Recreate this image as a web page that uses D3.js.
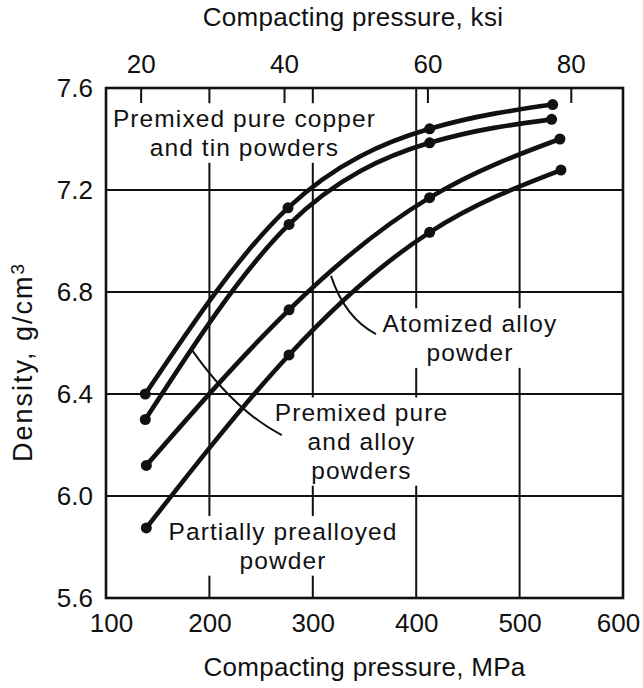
<!DOCTYPE html>
<html><head><meta charset="utf-8">
<script src="https://cdn.jsdelivr.net/npm/d3@7"></script>
<style>
html,body{margin:0;padding:0;background:#fff;}
svg{display:block;}
text{font-family:"Liberation Sans",Arial,Helvetica,sans-serif;fill:#111;}
</style></head><body>
<svg id="chart" width="643" height="688"></svg>
<script>
// ---- data ----
const mpaTicks = [100, 200, 300, 400, 500, 600];
const ksiTicks = [20, 40, 60, 80];
const densityTicks = [5.6, 6.0, 6.4, 6.8, 7.2, 7.6];

const seriesNames = [
  "Premixed pure copper and tin powders",
  "Premixed pure and alloy powders",
  "Atomized alloy powder",
  "Partially prealloyed powder"
];
const copperTinP = [138, 276, 413, 532];
const copperTinD = [6.40, 7.13, 7.44, 7.535];
const pureAlloyP = [138, 277, 413, 531];
const pureAlloyD = [6.30, 7.065, 7.385, 7.477];
const atomizedP  = [139, 277, 413, 539];
const atomizedD  = [6.12, 6.73, 7.17, 7.40];
const partialP   = [139, 277, 413, 540];
const partialD   = [5.875, 6.553, 7.034, 7.278];

const xTitle = "Compacting pressure, MPa";
const topTitle = "Compacting pressure, ksi";
const yTitle = "Density, g/cm";

// ---- layout ----
const svg = d3.select("#chart");
const plot = {left: 106, right: 623, top: 88, bottom: 598};
const FS = 26;

const x = d3.scaleLinear().domain([100, 600]).range([plot.left, plot.right]);
const y = d3.scaleLinear().domain([5.6, 7.6]).range([plot.bottom, plot.top]);
// ksi axis as drawn on the original figure
const ksi = d3.scaleLinear().domain([20, 80]).range([x(133.5), x(549.5)]);

const series = [
  {p: copperTinP, d: copperTinD},
  {p: pureAlloyP, d: pureAlloyD},
  {p: atomizedP, d: atomizedD},
  {p: partialP, d: partialD}
].map((s, i) => ({name: seriesNames[i], pts: s.p.map((p, j) => [p, s.d[j]])}));

// ---- gridlines ----
const grid = svg.append("g").attr("stroke", "#111").attr("stroke-width", 2);
grid.selectAll("line.v").data(mpaTicks.slice(1, -1)).join("line")
  .attr("x1", d => x(d)).attr("x2", d => x(d))
  .attr("y1", y(7.6)).attr("y2", y(5.6));
grid.selectAll("line.h").data(densityTicks.slice(1, -1)).join("line")
  .attr("y1", d => y(d)).attr("y2", d => y(d))
  .attr("x1", x(100)).attr("x2", x(600));

// ---- annotations (text blocks with white backing) ----
const annotations = [
  {lines: ["Premixed pure copper", "and tin powders"], at: [233.9, 7.443]},
  {lines: ["Atomized alloy", "powder"], at: [452, 6.639],
   leader: [[317.6, 6.863], [331.1, 6.698], [361.1, 6.635]]},
  {lines: ["Premixed pure", "and alloy", "powders"], at: [347.1, 6.286],
   leader: [[183, 6.573], [225.2, 6.331], [270, 6.239]]},
  {lines: ["Partially prealloyed", "powder"], at: [271.2, 5.824]}
];
const LFS = 24.5;     // annotation font size
const LH = 28.6;      // annotation line height
const bgLayer = svg.append("g");
const frameLayer = svg.append("g");
const curveLayer = svg.append("g");
const textLayer = svg.append("g");

annotations.forEach(a => {
  let box = null;
  const y0 = y(a.at[1]) - 0.8 * (a.lines.length - 1);
  a.lines.forEach((ln, i) => {
    const t = textLayer.append("text")
      .attr("text-anchor", "middle")
      .attr("x", x(a.at[0])).attr("y", y0 + i * LH)
      .style("font-size", LFS + "px")
      .style("letter-spacing", "1.1px")
      .text(ln);
    const bb = t.node().getBBox();
    if (!box) box = {x0: bb.x, y0: bb.y, x1: bb.x + bb.width, y1: bb.y + bb.height};
    else {
      box.x0 = Math.min(box.x0, bb.x); box.y0 = Math.min(box.y0, bb.y);
      box.x1 = Math.max(box.x1, bb.x + bb.width); box.y1 = Math.max(box.y1, bb.y + bb.height);
    }
  });
  bgLayer.append("rect")
    .attr("x", box.x0 - 6).attr("y", box.y0 - 2)
    .attr("width", box.x1 - box.x0 + 12).attr("height", box.y1 - box.y0 + 4)
    .attr("fill", "#fff");
  if (a.leader) {
    const [p0, c, p1] = a.leader;
    const path = d3.path();
    path.moveTo(x(p0[0]), y(p0[1]));
    path.quadraticCurveTo(x(c[0]), y(c[1]), x(p1[0]), y(p1[1]));
    curveLayer.append("path").attr("d", path.toString())
      .attr("fill", "none").attr("stroke", "#111").attr("stroke-width", 2);
  }
});

// ---- frame ----
frameLayer.append("rect")
  .attr("x", plot.left).attr("y", plot.top)
  .attr("width", plot.right - plot.left).attr("height", plot.bottom - plot.top)
  .attr("fill", "none").attr("stroke", "#111").attr("stroke-width", 2.6);

// ---- axes ----
const xAxis = frameLayer.append("g").attr("transform", `translate(0,${plot.bottom})`)
  .call(d3.axisBottom(x).tickValues(mpaTicks).tickSize(0).tickPadding(15.5).tickFormat(d3.format("d")));
const yAxis = frameLayer.append("g").attr("transform", `translate(${plot.left},0)`)
  .call(d3.axisLeft(y).tickValues(densityTicks).tickSize(0).tickPadding(13).tickFormat(d3.format(".1f")));
const topAxis = frameLayer.append("g").attr("transform", `translate(0,${plot.top})`)
  .call(d3.axisTop(ksi).tickValues(ksiTicks).tickSize(-15).tickPadding(15).tickFormat(d3.format("d")));
[xAxis, yAxis, topAxis].forEach(g => {
  g.select(".domain").remove();
  g.selectAll("text").style("font-size", FS + "px").attr("fill", "#111")
    .style("font-family", '"Liberation Sans",Arial,Helvetica,sans-serif');
});
topAxis.selectAll(".tick line").attr("stroke", "#111").attr("stroke-width", 2);
xAxis.selectAll(".tick text").attr("dx", (d, i, n) => i === 0 ? 5 : (i === n.length - 1 ? -5 : 0));

// ---- curves ----
const line = d3.line().x(d => x(d[0])).y(d => y(d[1])).curve(d3.curveNatural);
curveLayer.selectAll("path.series").data(series).join("path")
  .attr("class", "series")
  .attr("d", d => line(d.pts))
  .attr("fill", "none").attr("stroke", "#111").attr("stroke-width", 4.6)
  .attr("stroke-linecap", "round");
curveLayer.selectAll("g.dots").data(series).join("g").attr("class", "dots")
  .selectAll("circle").data(d => d.pts).join("circle")
  .attr("cx", d => x(d[0])).attr("cy", d => y(d[1])).attr("r", 5.5).attr("fill", "#111");

// ---- titles ----
svg.append("text").attr("x", (plot.left + plot.right) / 2).attr("y", 676)
  .attr("text-anchor", "middle").style("font-size", FS + "px").style("letter-spacing", "0.3px")
  .text(xTitle);
svg.append("text").attr("x", 353).attr("y", 26)
  .attr("text-anchor", "middle").style("font-size", FS + "px").style("letter-spacing", "0.3px")
  .text(topTitle);
const yt = svg.append("text")
  .attr("transform", `translate(32,${362}) rotate(-90)`)
  .attr("text-anchor", "middle").style("font-size", "27px").style("letter-spacing", "2px");
yt.append("tspan").text(yTitle);
yt.append("tspan").attr("dy", "-0.42em").style("font-size", "19px").text("3");
</script>
</body></html>
